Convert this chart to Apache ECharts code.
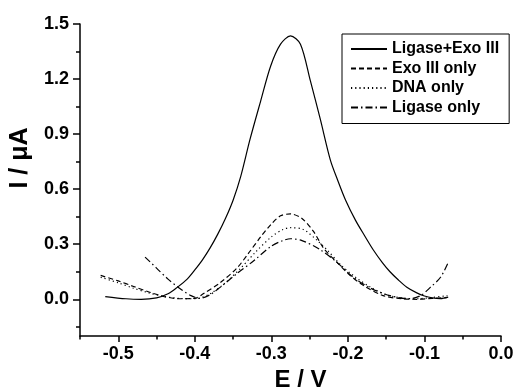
<!DOCTYPE html>
<html>
<head>
<meta charset="utf-8">
<script src="https://cdn.jsdelivr.net/npm/echarts@6/dist/echarts.min.js"></script>
<style>
  html, body { margin: 0; padding: 0; background: #fff; }
  #chart { width: 515px; height: 387px; }
</style>
</head>
<body>
<div id="chart"></div>
<script>
// potentials (V) and currents (uA)
const ligaseExoE = [-0.517, -0.49, -0.47, -0.45, -0.435, -0.423, -0.41, -0.40, -0.39, -0.38, -0.37, -0.36, -0.35, -0.34, -0.328, -0.314, -0.301, -0.288, -0.275, -0.262, -0.249, -0.236, -0.223, -0.213, -0.203, -0.19, -0.178, -0.167, -0.155, -0.145, -0.134, -0.123, -0.11, -0.10, -0.09, -0.079, -0.069];
const ligaseExoI = [0.015, 0.003, 0.0, 0.008, 0.03, 0.065, 0.11, 0.16, 0.215, 0.28, 0.355, 0.44, 0.54, 0.67, 0.87, 1.08, 1.27, 1.39, 1.435, 1.39, 1.19, 0.98, 0.76, 0.645, 0.54, 0.43, 0.345, 0.27, 0.2, 0.15, 0.105, 0.066, 0.035, 0.018, 0.008, 0.004, 0.012];

const exoE = [-0.523, -0.50, -0.48, -0.46, -0.44, -0.42, -0.40, -0.389, -0.367, -0.345, -0.33, -0.314, -0.30, -0.288, -0.275, -0.26, -0.245, -0.232, -0.214, -0.197, -0.18, -0.154, -0.13, -0.11, -0.09, -0.07];
const exoI = [0.13, 0.10, 0.07, 0.04, 0.015, 0.003, 0.005, 0.03, 0.09, 0.17, 0.25, 0.34, 0.41, 0.455, 0.465, 0.44, 0.37, 0.28, 0.20, 0.13, 0.076, 0.02, 0.003, 0.0, 0.005, 0.01];

const dnaE = [-0.523, -0.50, -0.48, -0.46, -0.44, -0.42, -0.40, -0.38, -0.36, -0.34, -0.32, -0.30, -0.285, -0.275, -0.258, -0.24, -0.225, -0.21, -0.19, -0.17, -0.15, -0.13, -0.11, -0.09, -0.07];
const dnaI = [0.12, 0.09, 0.06, 0.035, 0.015, 0.005, 0.003, 0.03, 0.09, 0.17, 0.26, 0.34, 0.38, 0.39, 0.38, 0.32, 0.26, 0.19, 0.12, 0.065, 0.025, 0.008, 0.003, 0.01, 0.02];

const ligaseE = [-0.465, -0.45, -0.435, -0.42, -0.405, -0.393, -0.38, -0.367, -0.345, -0.323, -0.30, -0.285, -0.275, -0.26, -0.236, -0.214, -0.193, -0.17, -0.145, -0.12, -0.105, -0.092, -0.079, -0.069];
const ligaseI = [0.23, 0.17, 0.11, 0.06, 0.02, 0.005, 0.025, 0.065, 0.14, 0.21, 0.29, 0.32, 0.33, 0.32, 0.27, 0.20, 0.12, 0.06, 0.02, 0.003, 0.02, 0.066, 0.12, 0.20];

const seriesNames = ['Ligase+Exo III', 'Exo III only', 'DNA only', 'Ligase only'];

const xMajorTicks = [-0.5, -0.4, -0.3, -0.2, -0.1, 0.0];
const xMinorTicks = [-0.55, -0.45, -0.35, -0.25, -0.15, -0.05];
const yMajorTicks = [0.0, 0.3, 0.6, 0.9, 1.2, 1.5];
const yMinorTicks = [-0.15, 0.15, 0.45, 0.75, 1.05, 1.35];

const pairs = (xs, ys) => xs.map((x, i) => [x, ys[i]]);

const chart = echarts.init(document.getElementById('chart'));

const font = 'Liberation Sans, Arial, sans-serif';
const black = '#000';

const lineSeries = (name, xs, ys, type) => ({
  name: name,
  type: 'line',
  data: pairs(xs, ys),
  smooth: 0.3,
  showSymbol: false,
  symbol: 'none',
  lineStyle: { color: black, width: 1.2, type: type },
  itemStyle: { color: black },
});

// main axis carries labels + long ticks, the twin only draws the short ticks
const xBase = { type: 'value', min: -0.55, max: 0, position: 'bottom', splitLine: { show: false } };
const yBase = { type: 'value', min: -0.2, max: 1.5, position: 'left', splitLine: { show: false } };

const option = {
  backgroundColor: '#fff',
  animation: false,
  grid: { left: 80, right: 14, top: 24, bottom: 51, outerBoundsMode: 'none', containLabel: false },
  legend: {
    orient: 'vertical',
    left: 342,
    top: 34,
    padding: [7, 10, 8, 8],
    itemGap: 3.5,
    itemWidth: 36,
    itemHeight: 16,
    borderColor: black,
    borderWidth: 1,
    itemStyle: { opacity: 0 },
    textStyle: { fontFamily: font, fontWeight: 'bold', fontSize: 16, color: black },
    data: seriesNames,
  },
  xAxis: [
    Object.assign({}, xBase, {
      name: 'E / V',
      nameLocation: 'middle',
      nameGap: 28,
      nameTextStyle: { fontFamily: font, fontWeight: 'bold', fontSize: 24, color: black, padding: [0, 0, 0, 20] },
      axisLine: { onZero: false, lineStyle: { color: black, width: 1.5 } },
      axisTick: { show: true, length: 6, lineStyle: { color: black, width: 1.5 }, customValues: xMajorTicks },
      axisLabel: {
        customValues: xMajorTicks,
        margin: 9,
        fontFamily: font, fontWeight: 'bold', fontSize: 18, color: black,
        formatter: (v) => v.toFixed(1),
      },
    }),
    Object.assign({}, xBase, {
      axisLine: { show: false, onZero: false },
      axisTick: { show: true, length: 3.5, lineStyle: { color: black, width: 1.5 }, customValues: xMinorTicks },
      axisLabel: { show: false },
    }),
  ],
  yAxis: [
    Object.assign({}, yBase, {
      name: 'I / \u03bcA',
      nameLocation: 'middle',
      nameGap: 46,
      nameTextStyle: { fontFamily: font, fontWeight: 'bold', fontSize: 25, color: black, padding: [0, 0, 0, 44] },
      axisLine: { show: true, onZero: false, lineStyle: { color: black, width: 1.5 } },
      axisTick: { show: true, length: 7, lineStyle: { color: black, width: 1.5 }, customValues: yMajorTicks },
      axisLabel: {
        customValues: yMajorTicks,
        margin: 11,
        fontFamily: font, fontWeight: 'bold', fontSize: 18, color: black,
        formatter: (v) => v.toFixed(1),
      },
    }),
    Object.assign({}, yBase, {
      axisLine: { show: false, onZero: false },
      axisTick: { show: true, length: 4, lineStyle: { color: black, width: 1.5 }, customValues: yMinorTicks },
      axisLabel: { show: false },
    }),
  ],
  series: [
    lineSeries(seriesNames[0], ligaseExoE, ligaseExoI, 'solid'),
    lineSeries(seriesNames[1], exoE, exoI, [5, 3]),
    lineSeries(seriesNames[2], dnaE, dnaI, [1.2, 3]),
    lineSeries(seriesNames[3], ligaseE, ligaseI, [7, 3, 1.5, 3]),
  ],
};

chart.setOption(option);
</script>
</body>
</html>
